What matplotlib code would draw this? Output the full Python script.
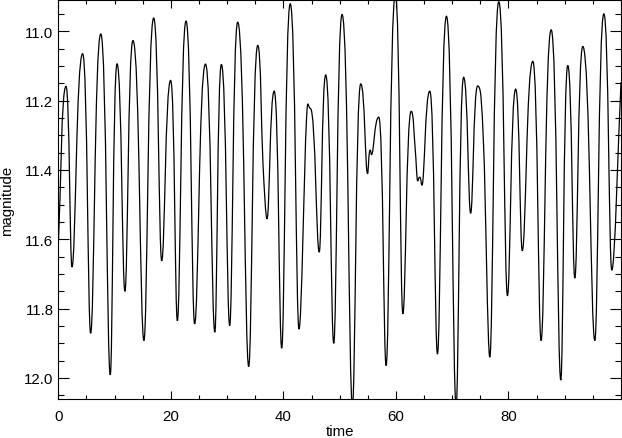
import numpy as np
import matplotlib
matplotlib.use("Agg")
import matplotlib.pyplot as plt
from matplotlib.path import Path
from matplotlib.patches import PathPatch
from matplotlib.ticker import MultipleLocator

# light curve turning points (time, magnitude)
times = [0.0, 1.37, 2.43, 4.33, 5.75, 7.55, 9.24, 10.44, 11.84, 13.27,
         15.22, 16.95, 18.38, 19.97, 21.16, 22.70, 24.23, 26.16, 27.82, 28.98,
         30.46, 31.88, 33.84, 35.45, 36.39, 37.10, 38.37, 39.70, 41.22, 42.78,
         44.12, 44.80, 46.38, 47.52, 48.95, 50.43, 52.27, 53.75, 54.96, 55.42,
         55.65, 56.95, 58.26, 59.90, 61.23, 62.72, 63.45, 63.86, 64.22, 64.62,
         66.02, 67.38, 68.98, 70.70, 72.03, 73.28, 74.52, 75.58, 76.68, 78.28,
         79.82, 81.28, 82.45, 84.33, 85.80, 87.59, 89.30, 90.54, 91.79, 93.21,
         95.35, 96.95, 98.36, 100.0]
mags = [11.62, 11.159, 11.68, 11.065, 11.871, 11.008, 11.991, 11.094, 11.75, 11.027,
        11.892, 10.962, 11.662, 11.142, 11.835, 10.971, 11.844, 11.095, 11.868, 11.096,
        11.849, 10.974, 11.967, 11.041, 11.388, 11.541, 11.173, 11.914, 10.921, 11.859,
        11.250, 11.223, 11.637, 11.126, 11.900, 10.952, 12.08, 11.152, 11.411, 11.343,
        11.356, 11.248, 11.964, 10.895, 11.815, 11.231, 11.345, 11.432, 11.421, 11.444,
        11.173, 11.931, 10.957, 12.08, 11.133, 11.525, 11.158, 11.33, 11.940, 10.915,
        11.763, 11.167, 11.633, 11.087, 11.892, 10.996, 12.006, 11.099, 11.712, 11.044,
        11.892, 10.950, 11.689, 11.147]

xticks = [0, 20, 40, 60, 80]
yticks = [11.0, 11.2, 11.4, 11.6, 11.8, 12.0]

plt.rcParams['font.family'] = ['Liberation Sans', 'DejaVu Sans']

fig = plt.figure(figsize=(6.22, 4.39), dpi=100)
ax = fig.add_axes([0.0937, 0.0888, 0.9047, 0.909])

# smooth line through the turning points: flat tangents at maxima/minima,
# broad tops (bright) and narrow bottoms (faint), like the original curve
t = np.asarray(times)
m = np.asarray(mags)
n = len(t)
slope = np.zeros(n)
reach = np.full(n, 1.0 / 3.0)
for i in range(n):
    if i == 0:
        slope[i] = (m[1] - m[0]) / (t[1] - t[0])
    elif i == n - 1:
        slope[i] = (m[-1] - m[-2]) / (t[-1] - t[-2])
    elif m[i] < m[i - 1] and m[i] < m[i + 1]:
        reach[i] = 0.6
    elif m[i] > m[i - 1] and m[i] > m[i + 1]:
        reach[i] = 0.35
    else:
        slope[i] = (m[i + 1] - m[i - 1]) / (t[i + 1] - t[i - 1])

verts = [(t[0], m[0])]
codes = [Path.MOVETO]
for i in range(n - 1):
    dt = t[i + 1] - t[i]
    verts.append((t[i] + reach[i] * dt, m[i] + reach[i] * dt * slope[i]))
    verts.append((t[i + 1] - reach[i + 1] * dt, m[i + 1] - reach[i + 1] * dt * slope[i + 1]))
    verts.append((t[i + 1], m[i + 1]))
    codes += [Path.CURVE4] * 3
ax.add_patch(PathPatch(Path(verts, codes), fill=False, ec='black', lw=0.9))

ax.set_xlim(0, 100)
ax.set_ylim(12.0606, 10.91)
ax.set_xticks(xticks)
ax.set_yticks(yticks)
ax.set_yticklabels(["%.1f" % v for v in yticks])
ax.xaxis.set_minor_locator(MultipleLocator(5))
ax.yaxis.set_minor_locator(MultipleLocator(0.05))
ax.tick_params(axis='x', which='both', direction='in', top=True, labelsize=10.8, pad=7.5)
ax.tick_params(axis='x', which='major', length=5.5, width=0.8)
ax.tick_params(axis='x', which='minor', length=2.9, width=0.8)
ax.tick_params(axis='y', which='both', direction='in', right=True, labelsize=10.8, pad=3.5)
ax.tick_params(axis='y', which='major', length=7.9, width=0.8)
ax.tick_params(axis='y', which='minor', length=4.3, width=0.8)
for s in ax.spines.values():
    s.set_linewidth(0.8)

ax.set_xlabel('time', fontsize=10.8)
ax.set_ylabel('magnitude', fontsize=10.8)
ax.xaxis.set_label_coords(0.5, -0.062)
ax.yaxis.set_label_coords(-0.079, 0.5)

fig.savefig('out.png', dpi=100)
